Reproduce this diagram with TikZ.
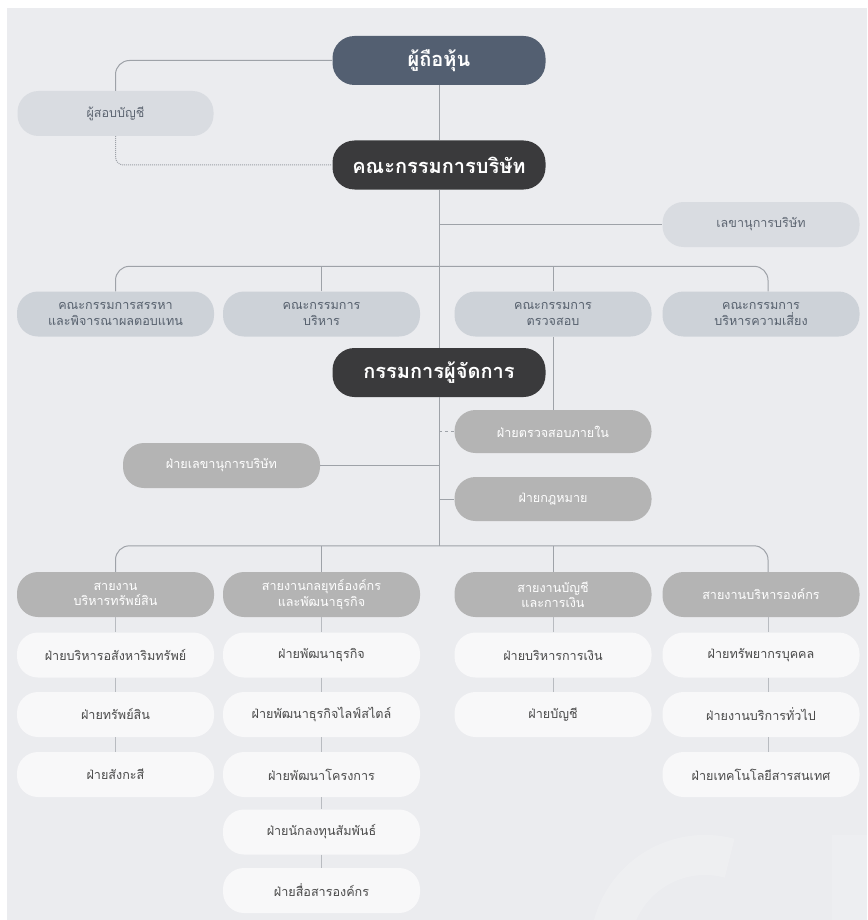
\documentclass[tikz,border=0pt]{standalone}
\usepackage{fontspec}
\newfontfamily\thai[Script=Thai]{Loma}
\definecolor{bgc}{HTML}{EBECEF}
\definecolor{slate}{HTML}{535F71}
\definecolor{darkbox}{HTML}{3A3A3C}
\definecolor{lightbox}{HTML}{D9DCE1}
\definecolor{lighttext}{HTML}{5E6672}
\definecolor{commbox}{HTML}{CDD2D8}
\definecolor{commtext}{HTML}{56606D}
\definecolor{midbox}{HTML}{B4B4B4}
\definecolor{whitebox}{HTML}{F8F8F9}
\definecolor{wtext}{HTML}{4A4A4A}
\definecolor{linec}{HTML}{9EA2A8}
\definecolor{linelight}{HTML}{B8BBC0}
\tikzset{
  boxbase/.style={rounded corners=21pt, inner sep=0pt, align=center,
    minimum width=197pt, minimum height=45pt,
    font=\thai\fontsize{12.6}{15.5}\selectfont},
  topbox/.style={boxbase, fill=slate, text=white, minimum width=213pt,
    minimum height=49pt, rounded corners=22pt,
    font=\thai\bfseries\fontsize{20}{24}\selectfont},
  darkb/.style={topbox, fill=darkbox},
  lightb/.style={boxbase, fill=lightbox, text=lighttext},
  commb/.style={boxbase, fill=commbox, text=commtext},
  midb/.style={boxbase, fill=midbox, text=white},
  whiteb/.style={boxbase, fill=whitebox, text=wtext},
  conn/.style={draw=linec, line width=1pt},
  connl/.style={draw=linelight, line width=1pt},
}
\begin{document}
\begin{tikzpicture}[x=1pt,y=-1pt]
\useasboundingbox (0,0) rectangle (867,920);
\fill[white] (0,0) rectangle (867,920);
\fill[bgc] (7,8) rectangle (867,920);
% faint watermark
\begin{scope}
\clip (7,8) rectangle (867,920);
\draw[white, opacity=0.18, line width=40pt] (729.6,858.2) arc[start angle=-75, end angle=-190, radius=95];
\fill[white, opacity=0.15] (832,835) rectangle (867,920);
\end{scope}

% nodes
\node[topbox] (sh) at (439,60.5) {ผู้ถือหุ้น};
\node[lightb, minimum width=196pt] (aud) at (115.5,113.5) {ผู้สอบบัญชี};
\node[darkb] (bod) at (439,165) {คณะกรรมการบริษัท};
\node[lightb] (sec) at (761,224.5) {เลขานุการบริษัท};
\node[commb] (c1) at (115.5,314) {คณะกรรมการสรรหา\\และพิจารณาผลตอบแทน};
\node[commb] (c2) at (321.5,314) {คณะกรรมการ\\บริหาร};
\node[commb] (c3) at (553,314) {คณะกรรมการ\\ตรวจสอบ};
\node[commb] (c4) at (761,314) {คณะกรรมการ\\บริหารความเสี่ยง};
\node[darkb] (md) at (439,372.5) {กรรมการผู้จัดการ};
\node[midb, minimum height=43pt] (ia) at (553,431.5) {ฝ่ายตรวจสอบภายใน};
\node[midb] (csd) at (221.5,465.5) {ฝ่ายเลขานุการบริษัท};
\node[midb, minimum height=44pt] (lg) at (553,499) {ฝ่ายกฎหมาย};
\node[midb] (d1) at (115.5,594.5) {สายงาน\\บริหารทรัพย์สิน};
\node[midb] (d2) at (321.5,594.5) {สายงานกลยุทธ์องค์กร\\และพัฒนาธุรกิจ};
\node[midb] (d3) at (553,594.5) {สายงานบัญชี\\และการเงิน};
\node[midb] (d4) at (761,594.5) {สายงานบริหารองค์กร};

\node[whiteb] (w11) at (115.5,655) {ฝ่ายบริหารอสังหาริมทรัพย์};
\node[whiteb] (w12) at (115.5,714.5) {ฝ่ายทรัพย์สิน};
\node[whiteb] (w13) at (115.5,774.5) {ฝ่ายสังกะสี};
\node[whiteb] (w21) at (321.5,655) {ฝ่ายพัฒนาธุรกิจ};
\node[whiteb] (w22) at (321.5,714.5) {ฝ่ายพัฒนาธุรกิจไลฟ์สไตล์};
\node[whiteb] (w23) at (321.5,774.5) {ฝ่ายพัฒนาโครงการ};
\node[whiteb] (w24) at (321.5,832) {ฝ่ายนักลงทุนสัมพันธ์};
\node[whiteb] (w25) at (321.5,890.5) {ฝ่ายสื่อสารองค์กร};
\node[whiteb] (w31) at (553,655) {ฝ่ายบริหารการเงิน};
\node[whiteb] (w32) at (553,714.5) {ฝ่ายบัญชี};
\node[whiteb] (w41) at (761,655) {ฝ่ายทรัพยากรบุคคล};
\node[whiteb] (w42) at (761,714.5) {ฝ่ายงานบริการทั่วไป};
\node[whiteb] (w43) at (761,774.5) {ฝ่ายเทคโนโลยีสารสนเทศ};

% helper coordinates
\path (c1.north) ++(0,-25) coordinate (b1);
\path (d1.north) ++(0,-26) coordinate (b2);

% connectors
\draw[conn, rounded corners=14pt] (sh.west) -| (aud.north);
\draw[conn, dash pattern=on 1pt off 1pt, rounded corners=8pt] (aud.south) |- (bod.west);
\draw[conn] (sh.south) -- (bod.north);
\draw[conn] (bod.south) -- (md.north);
\draw[conn] (bod.south |- sec.west) -- (sec.west);
\draw[conn, rounded corners=14pt] (c1.north) -- (b1) -| ([xshift=7pt]c4.north);
\draw[conn] (c2.north) -- (c2.north |- b1);
\draw[conn] (c3.north) -- (c3.north |- b1);
\draw[conn] (c3.south) -- (ia.north);
\draw[conn, dash pattern=on 3pt off 3pt] (md.south |- ia.west) -- (ia.west);
\draw[conn] (csd.east) -- (md.south |- csd.east);
\draw[conn] (md.south |- lg.west) -- (lg.west);
\draw[conn] (md.south) -- (md.south |- b2);
\draw[conn, rounded corners=14pt] (d1.north) -- (b2) -| ([xshift=7pt]d4.north);
\draw[conn] (d2.north) -- (d2.north |- b2);
\draw[conn] (d3.north) -- (d3.north |- b2);

\draw[connl] (d1.south) -- (w11.north);
\draw[connl] (w11.south) -- (w12.north);
\draw[connl] (w12.south) -- (w13.north);
\draw[connl] (d2.south) -- (w21.north);
\draw[connl] (w21.south) -- (w22.north);
\draw[connl] (w22.south) -- (w23.north);
\draw[connl] (w23.south) -- (w24.north);
\draw[connl] (w24.south) -- (w25.north);
\draw[connl] (d3.south) -- (w31.north);
\draw[connl] (w31.south) -- (w32.north);
\draw[connl] ([xshift=7pt]d4.south) -- ([xshift=7pt]w41.north);
\draw[connl] ([xshift=7pt]w41.south) -- ([xshift=7pt]w42.north);
\draw[connl] ([xshift=7pt]w42.south) -- ([xshift=7pt]w43.north);
\end{tikzpicture}
\end{document}
